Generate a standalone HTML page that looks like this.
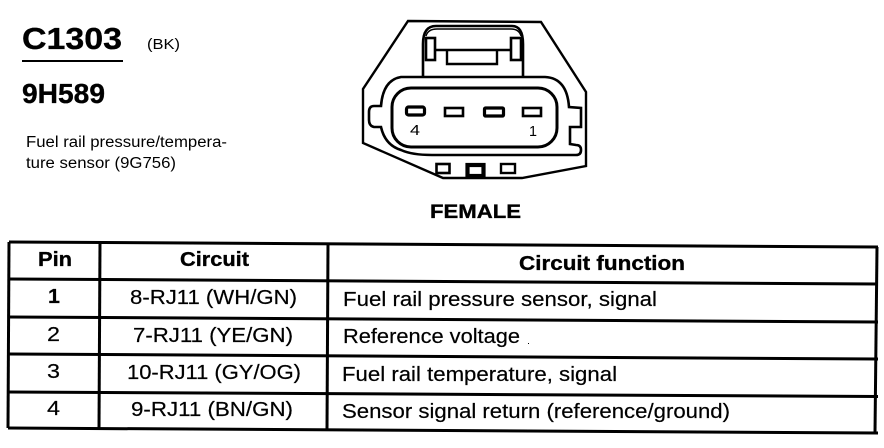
<!DOCTYPE html>
<html><head><meta charset="utf-8"><style>
html,body{margin:0;padding:0;background:#fff}
svg{display:block}
text{font-family:"Liberation Sans",sans-serif;fill:#000}
.b{font-weight:bold;stroke:#000;stroke-width:.35}
.n{stroke:#000;stroke-width:.2}
</style></head><body>
<svg width="884" height="448" viewBox="0 0 884 448" xmlns="http://www.w3.org/2000/svg">
<rect width="884" height="448" fill="#fff"/>
<text class="b" x="22" y="49" font-size="31" textLength="100" lengthAdjust="spacingAndGlyphs">C1303</text>
<rect x="22" y="60" width="101" height="2"/>
<text x="147" y="49" font-size="15" textLength="33" lengthAdjust="spacingAndGlyphs">(BK)</text>
<text class="b" x="22" y="103" font-size="28" textLength="83" lengthAdjust="spacingAndGlyphs">9H589</text>
<text x="26" y="147" font-size="15.5" textLength="201" lengthAdjust="spacingAndGlyphs">Fuel rail pressure/tempera-</text>
<text x="26" y="168" font-size="15.5" textLength="150" lengthAdjust="spacingAndGlyphs">ture sensor (9G756)</text>

<g fill="none" stroke="#000" stroke-width="2">
<path d="M408 21 L541 22 L586 92 L586 166 L522 178 L443 178 L363 143 L363 89 Z" stroke-width="2.4"/>
<path d="M423 78 L423 44 Q423 26 436 26 L512 26 Q523 26 523 44 L523 78" stroke-width="2.6"/>
<path d="M426 36 Q428 29 437 29 L511 29 Q519 29 521 36" stroke-width="1.4"/>
<rect x="426" y="38" width="9" height="22" stroke-width="2.6"/>
<rect x="511" y="38" width="10" height="22" stroke-width="2.6"/>
<path d="M436 50 L510 50" stroke-width="2.4"/>
<path d="M447 51 L447 64 L497 64 L497 51" stroke-width="2.4"/>
<path d="M423 77 L401 77 Q383 80 381 106 L374 106 Q369 106 369 112 L369 120 Q369 126 374 127 L381 127 Q385 145 401 150 Q412 155 432 155 L576 155 Q581 155 581 150 Q581 145 576 145 L570 144 L570 127 L581 127 L581 108 L569 107 Q567 78 545 77 L423 77" stroke-width="2.6"/>
<rect x="392" y="88" width="165" height="59" rx="19" ry="19" stroke-width="3"/>
<rect x="406.5" y="107" width="18" height="8" rx="2" stroke-width="3.2"/>
<rect x="445" y="108" width="18" height="8" stroke-width="2.6"/>
<rect x="484.5" y="108" width="19" height="8" rx="1" stroke-width="3.2"/>
<rect x="523" y="108" width="18" height="8" stroke-width="2.6"/>
<rect x="436.5" y="164" width="13" height="9" stroke-width="2.6"/>
<rect x="467.5" y="165" width="16" height="11" stroke-width="4.2"/>
<rect x="501" y="164" width="14" height="9" stroke-width="2.4"/>
</g>
<text x="410" y="135" font-size="15" textLength="10" lengthAdjust="spacingAndGlyphs">4</text>
<text x="529" y="136" font-size="15" textLength="8" lengthAdjust="spacingAndGlyphs">1</text>
<text class="b" x="430" y="218" font-size="19" textLength="91" lengthAdjust="spacingAndGlyphs">FEMALE</text>

<g stroke="#000" fill="none" stroke-width="3">
<path d="M9 242 L878 247" />
<path d="M9 279 L878 284" />
<path d="M9 317 L878 322" />
<path d="M9 354 L878 359" />
<path d="M9 392 L878 396.5" />
<path d="M8 428 L878 433" />
<path d="M9 242 L8 428" />
<path d="M100 242 L99 429" />
<path d="M328 244 L327 430" />
<path d="M877 247 L875 433" />
</g>

<text class="b" x="38" y="266" font-size="20.5" textLength="34" lengthAdjust="spacingAndGlyphs">Pin</text>
<text class="b" x="180" y="266" font-size="20.5" textLength="69" lengthAdjust="spacingAndGlyphs">Circuit</text>
<text class="b" x="519" y="270" font-size="20.5" textLength="166" lengthAdjust="spacingAndGlyphs">Circuit function</text>
<g font-size="20" class="n">
<text x="48" y="303" font-weight="bold" textLength="12" lengthAdjust="spacingAndGlyphs">1</text>
<text x="47" y="341" textLength="13" lengthAdjust="spacingAndGlyphs">2</text>
<text x="47" y="378" textLength="13" lengthAdjust="spacingAndGlyphs">3</text>
<text x="47" y="415" textLength="13" lengthAdjust="spacingAndGlyphs">4</text>
<text x="130" y="304" textLength="167" lengthAdjust="spacingAndGlyphs">8-RJ11 (WH/GN)</text>
<text x="133" y="342" textLength="160" lengthAdjust="spacingAndGlyphs">7-RJ11 (YE/GN)</text>
<text x="127" y="379" textLength="174" lengthAdjust="spacingAndGlyphs">10-RJ11 (GY/OG)</text>
<text x="131" y="416" textLength="162" lengthAdjust="spacingAndGlyphs">9-RJ11 (BN/GN)</text>
<text x="343" y="306" textLength="314" lengthAdjust="spacingAndGlyphs">Fuel rail pressure sensor, signal</text>
<text x="343" y="343" textLength="177" lengthAdjust="spacingAndGlyphs">Reference voltage</text>
<text x="342" y="381" textLength="275" lengthAdjust="spacingAndGlyphs">Fuel rail temperature, signal</text>
<text x="342" y="418" textLength="388" lengthAdjust="spacingAndGlyphs">Sensor signal return (reference/ground)</text>
</g>
<rect x="528" y="343" width="1" height="1"/>
</svg>
</body></html>
